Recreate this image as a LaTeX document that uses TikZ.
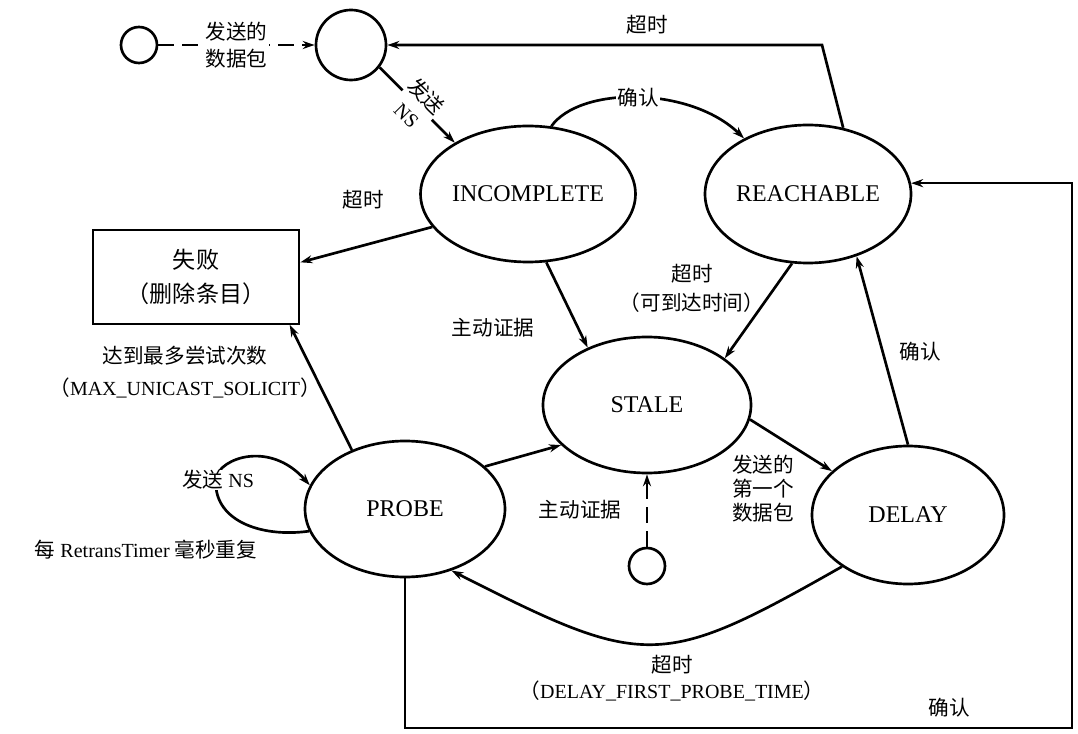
\documentclass[tikz,border=0pt]{standalone}
\usepackage{fontspec}
\setmainfont{Liberation Serif}
\newfontfamily\cjk[Scale=1.03]{Noto Sans CJK SC}
\usetikzlibrary{shapes.geometric,arrows.meta}
\begin{document}
\begin{tikzpicture}[x=0.75pt,y=-0.75pt,
  st/.style={ellipse,draw,line width=2pt,inner sep=0pt,font=\fontsize{18}{20}\selectfont},
  ring/.style={circle,draw,line width=2pt,inner sep=0pt},
  lab/.style={font=\fontsize{15}{19}\selectfont,align=center,inner sep=1pt},
  zh/.style={lab,font=\fontsize{15}{19}\selectfont\cjk},
  arr/.style={line width=2pt,-{Stealth[length=9pt,width=6pt]}},
  dsh/.style={arr,dash pattern=on 12pt off 6pt},
]
\useasboundingbox (0,0) rectangle (1078,734);
% nodes
\node[ring,minimum size=27pt] (s1) at (139,45) {};
\node[ring,minimum size=52.5pt] (c0) at (351,45) {};
\node[st,minimum width=146pt,minimum height=102pt] (inc) at (528,194) {INCOMPLETE};
\node[st,minimum width=154.5pt,minimum height=103.5pt] (rea) at (808,194) {REACHABLE};
\node[st,minimum width=156pt,minimum height=102pt] (sta) at (647,405) {STALE};
\node[st,minimum width=144pt,minimum height=103.5pt] (del) at (908,515) {DELAY};
\node[st,minimum width=150pt,minimum height=102pt] (pro) at (405,509) {PROBE};
\node[draw,line width=1.6pt,minimum width=155pt,minimum height=70pt,align=center,
  font=\fontsize{16.8}{25.5}\selectfont\cjk] (fail) at (196,277) {失败\\（删除条目）};
\node[ring,minimum size=27pt] (s2) at (647,566) {};
\coordinate (c1) at (822,45);
\coordinate (br) at (1072,728);
\coordinate (lp) at (216,478);
% connectors
\draw[dsh] (s1) -- node[zh,fill=white,font=\fontsize{15}{20}\selectfont\cjk] (l0) {发送的\\数据包} (c0);
\draw[arr] (c0.-38) -- node[lab,sloped,fill=white,inner sep=0pt,font=\fontsize{15}{20}\selectfont] (l1) {{\cjk 发送}\\NS} (inc.145);
\draw[arr] (rea.62) -- (c1) -- (c0.east);
\node[zh] (l2) at (647,25) {超时};
\draw[arr] (inc.71) .. controls (580,86) and (690,86) .. node[zh,fill=white,pos=0.5] (l3) {确认} (rea.139);
\draw[arr] (inc.199) -- (fail.8);
\node[zh] (l4) at (363,200) {超时};
\draw[arr] (inc.-75) -- (sta.136);
\node[zh] (l5) at (493,328) {主动证据};
\draw[arr] (rea.257) -- (sta.31);
\node[zh,font=\fontsize{15}{21.75}\selectfont\cjk] (l6) at (692,288) {超时\\（可到达时间）};
\draw[arr] (sta.-8) -- (del.150);
\node[zh,font=\fontsize{15}{18}\selectfont\cjk] (l7) at (763,489) {发送的\\第一个\\数据包};
\draw[arr] (del.90) -- (rea.-52);
\node[zh] (l8) at (920,352) {确认};
\draw[arr] (del.218) .. controls (660,670) and (645,669) .. (pro.-53);
\node[lab] (l9) at (672,678) {{\cjk 超时}\\{\cjk （}DELAY\_FIRST\_PROBE\_TIME{\cjk ）}};
\draw[arr] (pro.28) -- (sta.205);
\draw[dsh] (s2) -- (sta);
\node[zh] (l10) at (580,510) {主动证据};
\draw[arr] (pro.132) -- (fail.-27);
\node[lab,font=\fontsize{15}{24}\selectfont] (l11) at (185,372) {{\cjk 达到最多尝试次数}\\{\cjk （}MAX\_UNICAST\_SOLICIT{\cjk ）}};
\draw[arr] (pro.193) .. controls (260,538) and (212,520) .. (lp) .. controls (220,458) and (270,440) .. (pro.166);
\node[lab,fill=white,inner sep=0pt] (l12) at (218,480) {{\cjk 发送} NS};
\node[lab] (l13) at (146,550) {{\cjk 每} RetransTimer {\cjk 毫秒重复}};
\draw[arr] (pro.south) |- (br) |- (rea.6);
\node[zh] (l14) at (949,708) {确认};
\end{tikzpicture}
\end{document}
